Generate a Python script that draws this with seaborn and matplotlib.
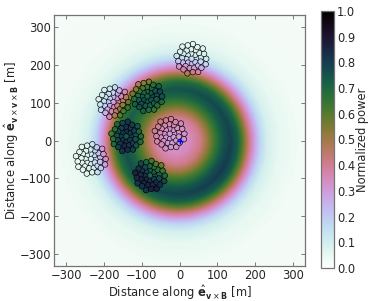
import numpy as np
import pandas as pd
import matplotlib
matplotlib.use("Agg")
import matplotlib.pyplot as plt
import seaborn as sns

# ---------------- data ----------------
# radial power profile of the simulated footprint
PROFILE_R = [0, 30, 60, 80, 100, 120, 140, 160, 175, 190, 205, 220, 240, 270, 320, 500]
PROFILE_P = [0.31, 0.33, 0.40, 0.50, 0.62, 0.72, 0.77, 0.70, 0.56, 0.41, 0.28, 0.17, 0.09, 0.05, 0.03, 0.02]
FOOT_CENTER = (-5.0, -3.0)
# azimuthal brightness of the ring (darker lower right)
GAIN_ANGLE = [-180, -125, -35, 55, 145, 180]
GAIN_VALUE = [0.97, 1.00, 1.05, 1.00, 0.93, 0.97]

# station centres [m]
STATION_X = [32, -175, -85, -141, -26, -235, -78]
STATION_Y = [217, 102, 117, 11, 18, -49, -93]
STATION_BIAS = [0.0, 0.0, 0.04, 0.10, 0.0, 0.0, 0.10]

# antenna layout within a station [m]
ANT_DX = [14, 9.5, -1, -10.5, -14, -9.5, 1, 10.5,
          25.0, 20.0, 10.6, -1.4, -13.0, -21.6, -25.3, -23.1, -15.8, -4.7, 7.4, 17.8, 24.2,
          39, 33.2, 29.8, 15.4, 3.6, -10.1, -24.3, -30.4, -39.6, -35.1, -33.2, -21.5, -11.0, 3.3, 17.5, 26.3, 37.5]
ANT_DY = [1, 10.5, 14, 9.5, -1, -10.5, -14, -9.5,
          4.4, 15.5, 23.0, 25.3, 21.7, 13.2, 1.7, -10.2, -19.8, -24.8, -24.2, -17.9, -7.7,
          0, 12.9, 27.1, 30.9, 39.0, 35.4, 32.1, 18.7, 7.4, -6.6, -20.6, -28.4, -38.8, -35.5, -35.0, -24.0, -14.6]

CORE = (0.0, 0.0)
LIM = 333
CBAR_TICKS = [0.0, 0.1, 0.2, 0.3, 0.4, 0.5, 0.6, 0.7, 0.8, 0.9, 1.0]


def power(x, y):
    dx = np.asarray(x) - FOOT_CENTER[0]
    dy = np.asarray(y) - FOOT_CENTER[1]
    r = np.hypot(dx, dy)
    th = np.degrees(np.arctan2(dy, dx))
    return np.interp(r, PROFILE_R, PROFILE_P) * np.interp(th, GAIN_ANGLE, GAIN_VALUE)


# ---------------- figure ----------------
sns.set_theme(style="ticks")
plt.rcParams["font.family"] = ["DejaVu Sans"]
plt.rcParams["mathtext.fontset"] = "dejavusans"
FS = 8.3

fig = plt.figure(figsize=(3.74, 3.01), dpi=100)
ax = fig.add_axes([54 / 374, 35 / 301, 251 / 374, 251 / 301])
cax = fig.add_axes([321 / 374, 33 / 301, 13 / 374, 257 / 301])

grid = np.linspace(-LIM, LIM, 300)
GX, GY = np.meshgrid(grid, grid)
field = power(GX, GY)
im = ax.imshow(field, origin="lower", extent=[-LIM, LIM, -LIM, LIM],
               cmap="cubehelix_r", vmin=0, vmax=1, interpolation="bilinear", aspect="equal")

rows = []
for sx, sy, b in zip(STATION_X, STATION_Y, STATION_BIAS):
    for dx, dy in zip(ANT_DX, ANT_DY):
        px, py = sx + dx, sy + dy
        rows.append({"x": px, "y": py, "p": float(np.clip(power(px, py) + b, 0, 1))})
df = pd.DataFrame(rows)

sns.scatterplot(data=df, x="x", y="y", hue="p", palette="cubehelix_r", hue_norm=(0, 1),
                s=16, edgecolor="black", linewidth=0.45, legend=False, ax=ax, zorder=3)
ax.plot([CORE[0]], [CORE[1]], marker="+", color="blue", ms=4, mew=1.0, zorder=4)

ax.set_xlim(-LIM, LIM)
ax.set_ylim(-LIM, LIM)
ax.set_xticks([-300, -200, -100, 0, 100, 200, 300])
ax.set_yticks([-300, -200, -100, 0, 100, 200, 300])
ax.tick_params(direction="in", top=True, right=True, labelsize=FS, length=3, width=0.6,
               color="0.4", pad=2)
for sp in ax.spines.values():
    sp.set_color("0.45")
    sp.set_linewidth(0.9)
ax.set_xlabel(r"Distance along $\hat{\mathbf{e}}_{\mathbf{v}\times\mathbf{B}}$ [m]", fontsize=FS, labelpad=1)
ax.set_ylabel(r"Distance along $\hat{\mathbf{e}}_{\mathbf{v}\times\mathbf{v}\times\mathbf{B}}$ [m]", fontsize=FS)
ax.yaxis.set_label_coords(-0.13, 0.5)

cb = fig.colorbar(im, cax=cax, ticks=CBAR_TICKS)
cb.ax.tick_params(direction="in", labelsize=FS, length=3, width=0.6, color="0.4", pad=2)
cb.outline.set_edgecolor("0.45")
cb.outline.set_linewidth(0.9)
cb.set_label("Normalized power", fontsize=FS, labelpad=1)

fig.savefig("out.png", dpi=100)
